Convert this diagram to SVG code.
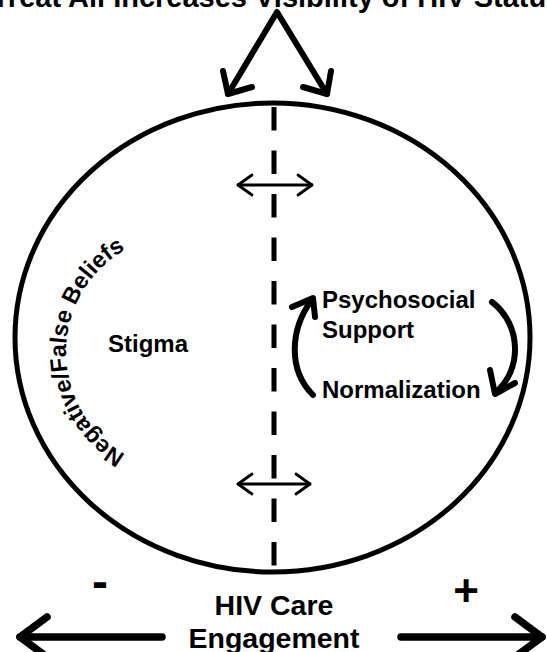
<svg xmlns="http://www.w3.org/2000/svg" width="547" height="652" viewBox="0 0 547 652">
<style>
  .t { font-family: "Liberation Sans", Arial, sans-serif; font-weight: bold; fill: #000; }
  .heavy { fill: none; stroke: #000; stroke-width: 6; stroke-linecap: round; stroke-linejoin: round; }
  .thin { fill: none; stroke: #000; stroke-width: 2.8; stroke-linecap: round; stroke-linejoin: round; }
</style>
<defs>
  <path id="beliefsArc" d="M 125 454.2 A 118 118 0 0 1 125 249.8"/>
</defs>
<rect width="547" height="652" fill="#fff"/>

<g id="title">
  <text class="t" x="277" y="7" font-size="29" text-anchor="middle">Treat All Increases Visibility of HIV Status</text>
</g>

<g id="circle">
  <ellipse cx="272.5" cy="337.5" rx="257.5" ry="234.5" fill="none" stroke="#000" stroke-width="5"/>
</g>

<g id="stigma">
  <text class="t" x="148" y="352" font-size="24" text-anchor="middle">Stigma</text>
</g>

<g id="beliefs">
  <text class="t" font-size="23.5"><textPath href="#beliefsArc" startOffset="50%" text-anchor="middle">Negative/False Beliefs</textPath></text>
</g>

<g id="psychosocial">
  <text class="t" x="322" y="308" font-size="24">Psychosocial</text>
  <text class="t" x="322" y="338" font-size="24">Support</text>
</g>

<g id="normalization">
  <text class="t" x="322" y="398" font-size="24">Normalization</text>
</g>

<g id="hiv-care">
  <text class="t" x="274" y="615" font-size="28.5" text-anchor="middle">HIV Care</text>
  <text class="t" x="274" y="648" font-size="28.5" text-anchor="middle">Engagement</text>
</g>

<g id="minus">
  <text class="t" x="100" y="598" font-size="48" text-anchor="middle">-</text>
</g>
<g id="plus">
  <text class="t" x="466" y="606" font-size="44" text-anchor="middle">+</text>
</g>

<g id="connectors">
  <!-- divider -->
  <line x1="274" y1="107" x2="274" y2="566" stroke="#000" stroke-width="5" stroke-dasharray="23.5 20"/>
  <!-- top split arrow -->
  <polyline class="heavy" points="228,94 277,12 327,94"/>
  <polyline class="heavy" points="223,71 228,94 252,87"/>
  <polyline class="heavy" points="331,71 327,94 303,87"/>
  <!-- double arrows across divider -->
  <line class="thin" x1="238" y1="185" x2="312" y2="185"/>
  <polyline class="thin" points="252,175 238,185 252,195"/>
  <polyline class="thin" points="298,175 312,185 298,195"/>
  <line class="thin" x1="238" y1="484" x2="310" y2="484"/>
  <polyline class="thin" points="252,474 238,484 252,494"/>
  <polyline class="thin" points="296,474 310,484 296,494"/>
  <!-- cycle arrows -->
  <path class="heavy" d="M 313 395 C 288 370, 290 330, 311 301"/>
  <polyline class="heavy" points="292,307 313,298 315,317"/>
  <path class="heavy" d="M 492 302 C 522 325, 522 370, 496 392"/>
  <polyline class="heavy" points="490,370 495,394 515,383"/>
  <!-- bottom engagement arrows -->
  <line x1="20" y1="637" x2="162" y2="637" stroke="#000" stroke-width="7.5" stroke-linecap="round"/>
  <polyline points="47,617 20,637 47,657" fill="none" stroke="#000" stroke-width="7.5" stroke-linecap="round" stroke-linejoin="round"/>
  <line x1="401" y1="637" x2="542" y2="637" stroke="#000" stroke-width="7.5" stroke-linecap="round"/>
  <polyline points="515,617 542,637 515,657" fill="none" stroke="#000" stroke-width="7.5" stroke-linecap="round" stroke-linejoin="round"/>
</g>
</svg>
